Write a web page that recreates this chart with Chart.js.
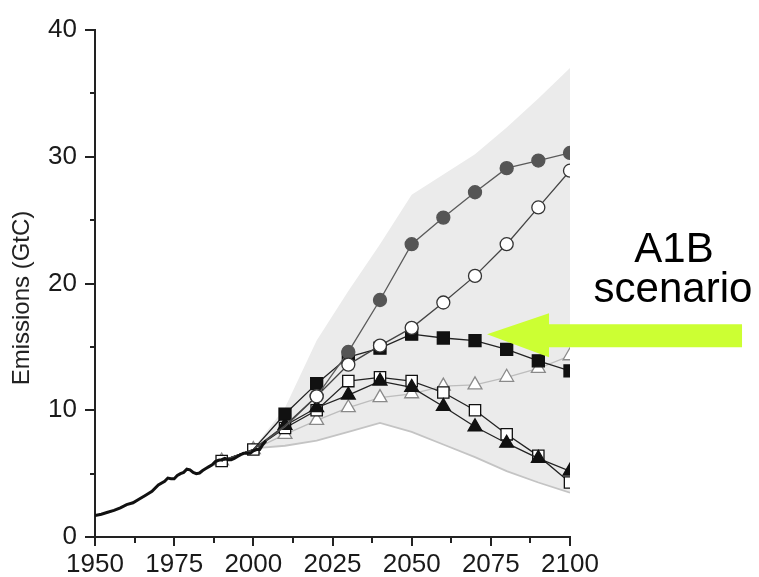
<!DOCTYPE html>
<html>
<head>
<meta charset="utf-8">
<script src="https://cdn.jsdelivr.net/npm/chart.js@4.4.1/dist/chart.umd.min.js"></script>
<style>
  html, body { margin: 0; padding: 0; background: #fff; }
  #wrap { width: 759px; height: 577px; }
</style>
</head>
<body>
<div id="wrap"><canvas id="emissionsChart" width="759" height="577"></canvas></div>
<script>
// observed fossil emissions (GtC)
const histYears = [1950, 1952, 1954, 1956, 1958, 1960, 1962, 1964, 1966, 1968, 1970, 1972, 1973, 1974, 1975, 1976, 1977, 1978, 1979, 1980, 1981, 1982, 1983, 1984, 1985, 1986, 1987, 1988, 1989, 1990, 1991, 1992, 1993, 1994, 1995, 1996, 1997, 1998, 1999, 2000, 2001, 2002, 2003, 2004];
const histValues = [1.7, 1.8, 1.95, 2.1, 2.3, 2.55, 2.7, 3.0, 3.3, 3.6, 4.1, 4.4, 4.65, 4.6, 4.6, 4.85, 5.0, 5.1, 5.35, 5.3, 5.1, 5.0, 5.05, 5.25, 5.4, 5.55, 5.7, 5.95, 6.05, 6.1, 6.2, 6.1, 6.1, 6.2, 6.35, 6.5, 6.6, 6.6, 6.6, 6.8, 6.9, 6.9, 7.3, 7.6];

// SRES marker scenarios
const scenYears = [1990, 2000, 2010, 2020, 2030, 2040, 2050, 2060, 2070, 2080, 2090, 2100];
const a1fi = [6.0, 6.9, 8.7, 11.1, 14.6, 18.7, 23.1, 25.2, 27.2, 29.1, 29.7, 30.3];
const a2 = [6.0, 6.9, 8.8, 11.1, 13.6, 15.1, 16.5, 18.5, 20.6, 23.1, 26.0, 28.9];
const a1b = [6.0, 6.9, 9.7, 12.1, 14.2, 14.9, 16.0, 15.7, 15.5, 14.8, 13.9, 13.1];
const b2 = [6.0, 6.9, 8.6, 10.0, 12.3, 12.6, 12.3, 11.4, 10.0, 8.1, 6.4, 4.3];
const a1t = [6.0, 6.9, 8.8, 10.2, 11.2, 12.3, 11.8, 10.3, 8.7, 7.4, 6.2, 5.2];
const b1 = [6.0, 6.9, 8.1, 9.2, 10.2, 11.0, 11.3, 11.9, 12.0, 12.6, 13.3, 14.3];

// range of all SRES scenarios
const rangeYears = [2000, 2010, 2020, 2030, 2040, 2050, 2060, 2070, 2080, 2090, 2100];
const rangeLow = [7.0, 7.2, 7.6, 8.3, 9.0, 8.3, 7.3, 6.3, 5.2, 4.3, 3.5];
const rangeHigh = [7.0, 10.2, 15.5, 19.4, 23.1, 27.0, 28.6, 30.2, 32.3, 34.6, 37.0];

const xTicks = [1950, 1975, 2000, 2025, 2050, 2075, 2100];
const yTicks = [0, 10, 20, 30, 40];

const pts = (xs, ys) => xs.map((x, i) => ({ x: x, y: ys[i] }));

const FONT = "'Liberation Sans', Arial, Helvetica, sans-serif";

// symbols before index firstMark are hidden (covered in the original figure)
function scenario(label, values, opts, order, firstMark) {
    const r = opts.pointRadius;
    return Object.assign({
        label: label,
        data: pts(scenYears, values),
        borderWidth: 1.3,
        pointBorderWidth: 1.3,
        tension: 0,
        fill: false,
        order: order
    }, opts, {
        pointRadius: c => c.dataIndex < firstMark ? 0 : r
    });
}

// minor ticks, annotation arrow and labels
const extras = {
    id: "extras",
    afterDraw(chart) {
        const ctx = chart.ctx;
        const xs = chart.scales.x;
        const ys = chart.scales.y;
        ctx.save();
        ctx.strokeStyle = "#222";
        ctx.lineWidth = 2;
        for (let v = 5; v < 40; v += 10) {
            const y = Math.round(ys.getPixelForValue(v));
            ctx.beginPath();
            ctx.moveTo(xs.left - 5, y);
            ctx.lineTo(xs.left, y);
            ctx.stroke();
        }
        for (let v = 1962.5; v < 2100; v += 25) {
            const x = Math.round(xs.getPixelForValue(v));
            ctx.beginPath();
            ctx.moveTo(x, ys.bottom);
            ctx.lineTo(x, ys.bottom + 6);
            ctx.stroke();
        }

        // axis title
        ctx.fillStyle = "#222";
        ctx.font = "24px " + FONT;
        ctx.textAlign = "center";
        ctx.textBaseline = "middle";
        ctx.translate(22, 298);
        ctx.rotate(-Math.PI / 2);
        ctx.fillText("Emissions (GtC)", 0, 0);
        ctx.setTransform(1, 0, 0, 1, 0, 0);

        // arrow to A1B
        const tipX = xs.getPixelForValue(2073.8);
        const tipY = ys.getPixelForValue(16.0);
        ctx.fillStyle = "#ccff33";
        ctx.beginPath();
        ctx.moveTo(tipX, tipY);
        ctx.lineTo(tipX + 62, tipY - 21);
        ctx.lineTo(tipX + 62, tipY - 10);
        ctx.lineTo(tipX + 255, tipY - 10);
        ctx.lineTo(tipX + 255, tipY + 13);
        ctx.lineTo(tipX + 62, tipY + 13);
        ctx.lineTo(tipX + 62, tipY + 23);
        ctx.closePath();
        ctx.fill();

        ctx.fillStyle = "#000";
        ctx.font = "42px " + FONT;
        ctx.textAlign = "center";
        ctx.textBaseline = "alphabetic";
        ctx.fillText("A1B", 674, 262);
        ctx.fillText("scenario", 673, 302);
        ctx.restore();
    }
};

const ctx = document.getElementById("emissionsChart").getContext("2d");
new Chart(ctx, {
    type: "line",
    data: {
        datasets: [
            {
                label: "range high",
                data: pts(rangeYears, rangeHigh),
                borderWidth: 0,
                borderColor: "rgba(0,0,0,0)",
                backgroundColor: "#ebebeb",
                pointRadius: 0,
                fill: { target: 1 },
                tension: 0,
                order: 101
            },
            {
                label: "range low",
                data: pts(rangeYears, rangeLow),
                borderWidth: 1.8,
                borderColor: "#c4c4c4",
                pointRadius: 0,
                fill: false,
                tension: 0,
                order: 100
            },
            scenario("B1", b1, {
                borderColor: "#bdbdbd", pointStyle: "triangle", pointRadius: 8,
                pointBackgroundColor: "#fff", pointBorderColor: "#8a8a8a"
            }, 9, 0),
            scenario("B2", b2, {
                borderColor: "#222", pointStyle: "rect", pointRadius: 8,
                pointBackgroundColor: "#fff", pointBorderColor: "#111"
            }, 8, 0),
            scenario("A1T", a1t, {
                borderColor: "#222", pointStyle: "triangle", pointRadius: 8,
                pointBackgroundColor: "#111", pointBorderColor: "#111"
            }, 7, 2),
            scenario("A1B", a1b, {
                borderColor: "#222", pointStyle: "rect", pointRadius: 8.5,
                pointBackgroundColor: "#111", pointBorderColor: "#111"
            }, 6, 2),
            scenario("A1FI", a1fi, {
                borderColor: "#5a5a5a", pointStyle: "circle", pointRadius: 6.5,
                pointBackgroundColor: "#555", pointBorderColor: "#555"
            }, 5, 3),
            scenario("A2", a2, {
                borderColor: "#444", pointStyle: "circle", pointRadius: 6.5,
                pointBackgroundColor: "#fff", pointBorderColor: "#333"
            }, 4, 3),
            {
                label: "Observed",
                data: pts(histYears, histValues),
                borderColor: "#111",
                borderWidth: 3,
                pointRadius: 0,
                fill: false,
                tension: 0,
                order: 1
            }
        ]
    },
    options: {
        responsive: false,
        animation: false,
        devicePixelRatio: 1,
        layout: { padding: { left: 0, top: 30, right: 189, bottom: 0 } },
        plugins: {
            legend: { display: false },
            tooltip: { enabled: false }
        },
        scales: {
            x: {
                type: "linear",
                min: 1950,
                max: 2100,
                afterFit: s => { s.height = 40; },
                afterBuildTicks: s => { s.ticks = xTicks.map(v => ({ value: v })); },
                border: { display: true, color: "#222", width: 2 },
                grid: { drawOnChartArea: false, drawTicks: true, tickLength: 9, color: "#222", lineWidth: 2 },
                ticks: {
                    autoSkip: false,
                    maxRotation: 0,
                    padding: 3,
                    color: "#1a1a1a",
                    font: { family: FONT, size: 26 },
                    callback: v => String(v)
                }
            },
            y: {
                min: 0,
                max: 40,
                afterFit: s => { s.width = 95; },
                afterBuildTicks: s => { s.ticks = yTicks.map(v => ({ value: v })); },
                border: { display: true, color: "#222", width: 2 },
                grid: { drawOnChartArea: false, drawTicks: true, tickLength: 10, color: "#222", lineWidth: 2 },
                ticks: {
                    padding: 8,
                    color: "#1a1a1a",
                    font: { family: FONT, size: 26 },
                    callback: v => String(v)
                }
            }
        }
    },
    plugins: [extras]
});
</script>
</body>
</html>
